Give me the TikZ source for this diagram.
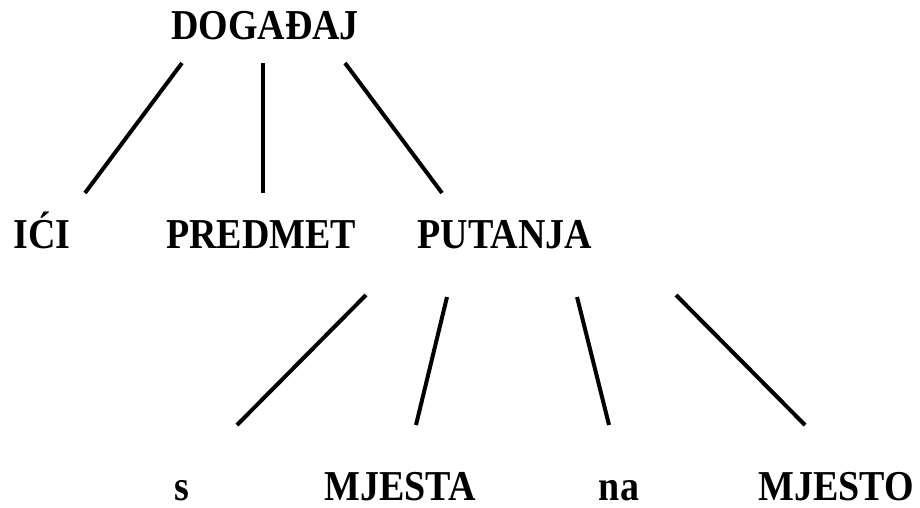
\documentclass[tikz,border=0pt]{standalone}
\usepackage{graphicx}
\usepackage{fontspec}
\setmainfont{Liberation Serif}
\newcommand\vstretch[1]{\scalebox{1}[1.12]{#1}}
\begin{document}
\begin{tikzpicture}[x=1pt,y=-1pt,
  lbl/.style={anchor=base,inner sep=0pt,font=\fontsize{38}{38}\selectfont\bfseries},
  edge/.style={line width=4pt}]
\useasboundingbox (0,0) rectangle (920,507);
\node[lbl] (dog) at (265,39) {\vstretch{DOGAĐAJ}};
\node[lbl] (ici) at (42,248) {\vstretch{IĆI}};
\node[lbl] (pred) at (261,248) {\vstretch{PREDMET}};
\node[lbl] (put) at (505,248) {\vstretch{PUTANJA}};
\node[lbl] (s) at (182,500) {\vstretch{s}};
\node[lbl] (mjesta) at (400,500) {\vstretch{MJESTA}};
\node[lbl] (na) at (619,500) {\vstretch{na}};
\node[lbl] (mjesto) at (836,500) {\vstretch{MJESTO}};
\coordinate (d1) at (182,63);  \coordinate (i1) at (85,193);
\coordinate (d2) at (263,63);  \coordinate (p1) at (263,193);
\coordinate (d3) at (345,63);  \coordinate (u1) at (442,193);
\coordinate (u2) at (366,295); \coordinate (s1) at (237,425);
\coordinate (u3) at (447,297); \coordinate (m1) at (416,425);
\coordinate (u4) at (577,297); \coordinate (n1) at (609,425);
\coordinate (u5) at (676,295); \coordinate (o1) at (805,425);
\draw[edge] (d1) -- (i1);
\draw[edge] (d2) -- (p1);
\draw[edge] (d3) -- (u1);
\draw[edge] (u2) -- (s1);
\draw[edge] (u3) -- (m1);
\draw[edge] (u4) -- (n1);
\draw[edge] (u5) -- (o1);
\end{tikzpicture}
\end{document}
